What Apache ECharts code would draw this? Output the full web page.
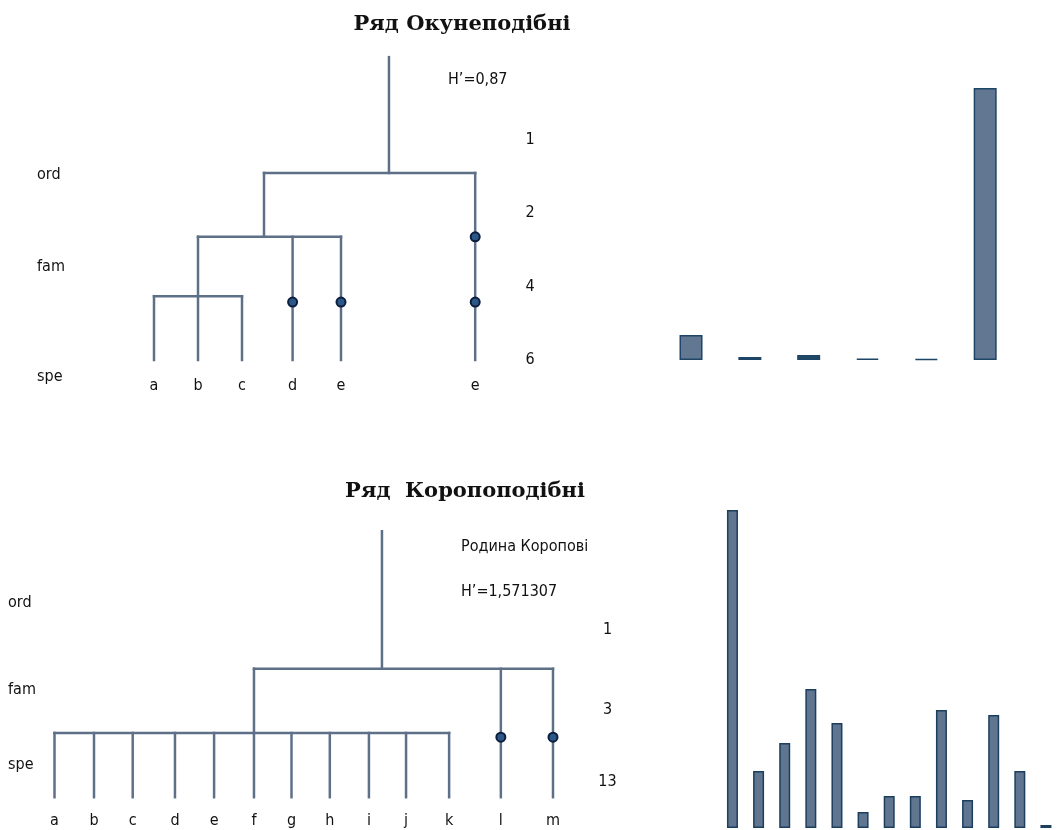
<!DOCTYPE html>
<html>
<head>
<meta charset="utf-8">
<script src="https://cdn.jsdelivr.net/npm/echarts@6/dist/echarts.min.js"></script>
<style>
html,body{margin:0;padding:0;background:#fff}
#chart{width:1059px;height:830px}
</style>
</head>
<body>
<div id="chart"></div>
<script>
// ряд Окунеподібні: дерево (x - позиція гілки, level - рівень таксону)
const perchIds    =['root','ord','famA','famE','genABC','genD','genE','genE2','a','b','c','d','e','e2'];
const perchParent =[null,'root','ord','ord','famA','famA','famA','famE','genABC','genABC','genABC','genD','genE','genE2'];
const perchX      =[6.34,6.34,3.5,8.3,2,4.15,5.25,8.3,1,2,3,4.15,5.25,8.3];
const perchLevel  =[-1.13,0.45,1.32,1.32,2.13,2.21,2.21,2.21,3,3,3,3,3,3];
const perchLeaves =['a','b','c','d','e','e2'];
const perchLeafNames=['a','b','c','d','e','e'];
const perchCounts =['1','2','4','6'];
const perchCountLevel=[0,1,2,3];
const perchBars   =[25,3,5,1.5,1,272];

// ряд Коропоподібні
const carpIds    =['root','ord','famC','famL','famM','a','b','c','d','e','f','g','h','i','j','k','l','m'];
const carpParent =[null,'root','ord','ord','ord','famC','famC','famC','famC','famC','famC','famC','famC','famC','famC','famC','famL','famM'];
const carpX      =[9.29,9.29,6.05,12.3,13.62,1,2,2.98,4.05,5.04,6.05,7,7.97,8.96,9.9,10.99,12.3,13.62];
const carpLevel  =[-1.3,0.51,1.355,1.41,1.41,2.2,2.2,2.2,2.2,2.2,2.2,2.2,2.2,2.2,2.2,2.2,2.2,2.2];
const carpLeaves =['a','b','c','d','e','f','g','h','i','j','k','l','m'];
const carpLeafNames=['a','b','c','d','e','f','g','h','i','j','k','l','m'];
const carpCounts =['1','3','13'];
const carpCountLevel=[0,1.05,2];
const carpBars   =[318,57,85,139,105,16,32,32,118,28,113,57,3];

const narrow="'Liberation Sans Narrow','DejaVu Sans Condensed','Roboto Condensed',sans-serif";
const lineColor='#5e7088';

function buildTree(ids,parents,xs,levels){
    let idx={},kids={},segs=[],dots=[];
    ids.forEach(function(id,i){idx[id]=i;kids[id]=[];});
    ids.forEach(function(id,i){
        if(parents[i]!==null){
            let p=idx[parents[i]];
            kids[parents[i]].push(i);
            segs.push([xs[i],levels[p],xs[i],levels[i]]);
        }
    });
    ids.forEach(function(id,i){
        let k=kids[id];
        if(k.length>1){
            let all=k.map(function(j){return xs[j];}).concat([xs[i]]);
            segs.push([Math.min.apply(null,all),levels[i],Math.max.apply(null,all),levels[i]]);
        }
        if(k.length===1&&parents[i]!==null){
            dots.push([xs[i],levels[i]]);
        }
    });
    return {segs:segs,dots:dots};
}
function leafPoints(ids,xs,levels,leaves,names){
    return leaves.map(function(l,i){
        let j=ids.indexOf(l);
        return {value:[xs[j],levels[j]],name:names[i]};
    });
}

const perch=buildTree(perchIds,perchParent,perchX,perchLevel);
const carp=buildTree(carpIds,carpParent,carpX,carpLevel);

function segSeries(data,axis){
    return {
        type:'custom',xAxisIndex:axis,yAxisIndex:axis,
        encode:{x:[0,2],y:[1,3]},
        data:data,silent:true,
        renderItem:function(params,api){
            let p1=api.coord([api.value(0),api.value(1)]);
            let p2=api.coord([api.value(2),api.value(3)]);
            return {type:'line',shape:{x1:p1[0],y1:p1[1],x2:p2[0],y2:p2[1]},
                style:{stroke:lineColor,lineWidth:2.5,lineCap:'square'}};
        }
    };
}
function dotSeries(data,axis){
    return {type:'scatter',xAxisIndex:axis,yAxisIndex:axis,data:data,symbolSize:9,silent:true,
        itemStyle:{color:'#2b5887',borderColor:'#0c1d3d',borderWidth:2,opacity:1}};
}
function labelSeries(data,axis,pos,dist){
    return {type:'scatter',xAxisIndex:axis,yAxisIndex:axis,data:data,symbolSize:0,silent:true,
        itemStyle:{opacity:1},
        label:{show:true,position:pos,distance:dist,formatter:'{b}',fontFamily:narrow,fontSize:16,color:'#111'}};
}
function text(str,x,y,font,align){
    return {type:'text',x:x,y:y,silent:true,
        style:{text:str,font:font,fill:'#111',align:align||'left',verticalAlign:'middle',
            textAlign:align||'left',textVerticalAlign:'middle'}};
}

const chart=echarts.init(document.getElementById('chart'));
const titleFont="bold 21px 'DejaVu Serif','Liberation Serif',serif";
const smallFont="16px "+narrow;

chart.setOption({
    animation:false,
    backgroundColor:'#fff',
    grid:[
        {left:110,top:30,width:440,height:366.67},
        {left:661.6,top:60,width:353,height:300},
        {left:15,top:516,width:632,height:304},
        {left:719.4,top:508,width:353.6,height:320}
    ],
    xAxis:[
        {type:'value',gridIndex:0,min:0,max:10,show:false},
        {type:'category',gridIndex:1,data:perchBars.map(function(v,i){return i;}),show:false},
        {type:'value',gridIndex:2,min:0,max:16,show:false},
        {type:'category',gridIndex:3,data:carpBars.map(function(v,i){return i;}),show:false}
    ],
    yAxis:[
        {type:'value',gridIndex:0,min:-1.5,max:3.5,inverse:true,show:false},
        {type:'value',gridIndex:1,min:0,max:300,show:false},
        {type:'value',gridIndex:2,min:-1.5,max:2.5,inverse:true,show:false},
        {type:'value',gridIndex:3,min:0,max:320,show:false}
    ],
    series:[
        segSeries(perch.segs,0),
        dotSeries(perch.dots,0),
        labelSeries(leafPoints(perchIds,perchX,perchLevel,perchLeaves,perchLeafNames),0,'bottom',18),
        labelSeries(perchCounts.map(function(c,i){return {value:[9.55,perchCountLevel[i]],name:c};}),0,'inside',0),
        {
            type:'bar',xAxisIndex:1,yAxisIndex:1,data:perchBars,barWidth:23,silent:true,
            itemStyle:{
                color:function(p){return ['#627892','#1c3560','#1f4a66','#2a5a70','#b9bec4','#627892'][p.dataIndex];},
                borderColor:'#1e4466',borderWidth:1.5
            }
        },
        segSeries(carp.segs,2),
        dotSeries(carp.dots,2),
        labelSeries(leafPoints(carpIds,carpX,carpLevel,carpLeaves,carpLeafNames),2,'bottom',16),
        labelSeries(carpCounts.map(function(c,i){return {value:[15,carpCountLevel[i]],name:c};}),2,'inside',0),
        {
            type:'bar',xAxisIndex:3,yAxisIndex:3,data:carpBars,barWidth:11,silent:true,
            itemStyle:{color:'#5f7590',borderColor:'#1d3f5e',borderWidth:1.5}
        }
    ],
    graphic:[
        text('Ряд Окунеподібні',462,25,titleFont,'center'),
        text('H’=0,87',448,80,smallFont),
        text('ord',37,175,smallFont),
        text('fam',37,267,smallFont),
        text('spe',37,377,smallFont),
        text('Ряд  Коропоподібні',465,492,titleFont,'center'),
        text('Родина Коропові',461,547,smallFont),
        text('H’=1,571307',461,592,smallFont),
        text('ord',8,603,smallFont),
        text('fam',8,690,smallFont),
        text('spe',8,765,smallFont)
    ]
});
</script>
</body>
</html>
